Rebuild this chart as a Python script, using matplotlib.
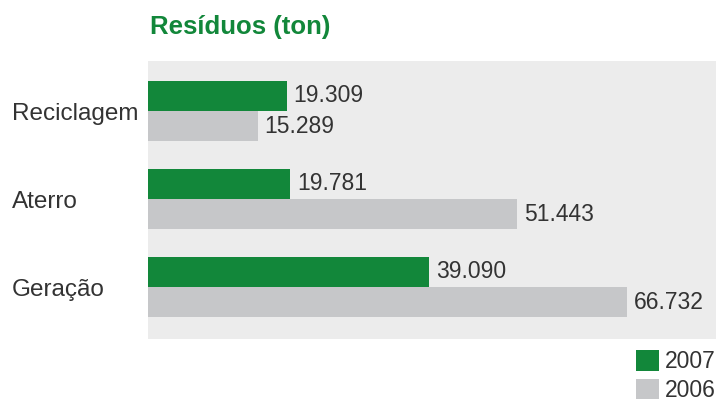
import matplotlib
matplotlib.use("Agg")
import matplotlib.pyplot as plt
import numpy as np

categories = ["Reciclagem", "Aterro", "Geração"]
values_2007 = [19309, 19781, 39090]
values_2006 = [15289, 51443, 66732]
labels_2007 = ["19.309", "19.781", "39.090"]
labels_2006 = ["15.289", "51.443", "66.732"]
series_names = ["2007", "2006"]

GREEN = "#12873a"
GRAY = "#c6c7c9"
BG = "#ececec"
TXT = "#333333"

plt.rcParams['font.family'] = ['Liberation Sans', 'DejaVu Sans']

W, H = 719, 401
fig = plt.figure(figsize=(W / 100, H / 100), dpi=100)
ax = fig.add_axes([148 / W, (H - 339) / H, 568 / W, 278 / H])
ax.set_facecolor(BG)
for s in ax.spines.values():
    s.set_visible(False)

y = np.arange(len(categories))
h = 0.345
b1 = ax.barh(y - h / 2, values_2007, height=h, color=GREEN, label=series_names[0])
b2 = ax.barh(y + h / 2, values_2006, height=h, color=GRAY, label=series_names[1])

for bars, labs in ((b1, labels_2007), (b2, labels_2006)):
    for rect, lab in zip(bars, labs):
        ax.annotate(lab, (rect.get_width(), rect.get_y() + rect.get_height() / 2),
                    xytext=(5, 0), textcoords="offset points", va="center", ha="left",
                    fontsize=16.5, color=TXT)

ax.set_xlim(0, 79100)
ax.set_ylim(2.59, -0.57)
ax.set_xticks([])
ax.set_yticks(y)
ax.set_yticklabels(categories, fontsize=17.5, color=TXT)
for t in ax.get_yticklabels():
    t.set_horizontalalignment("left")
ax.tick_params(axis="y", length=0, pad=(148 - 12) * 0.72)

fig.text(150 / W, 1 - 27 / H, "Resíduos (ton)", fontsize=18.5, fontweight="bold",
         color=GREEN, va="center", ha="left")

leg = ax.legend(loc="upper right", bbox_to_anchor=(716 / W, 1 - 350 / H),
                bbox_transform=fig.transFigure, frameon=False, fontsize=16.5,
                handlelength=1.0, handleheight=1.0, handletextpad=0.28,
                labelspacing=0.25, borderpad=0, borderaxespad=0)
for t in leg.get_texts():
    t.set_color(TXT)

fig.savefig("out.png", dpi=100)
